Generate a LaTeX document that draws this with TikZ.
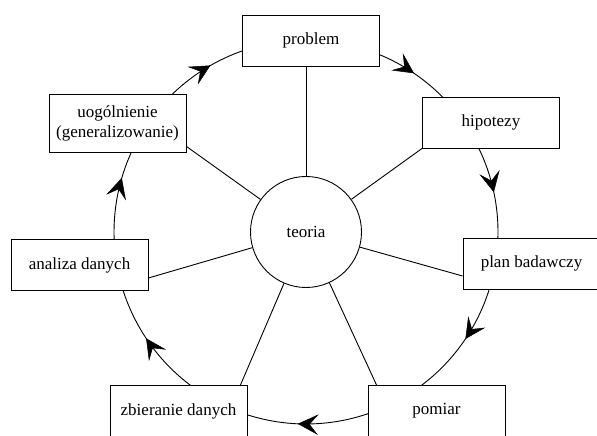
\documentclass[tikz,border=0pt]{standalone}
\usepackage{fontspec}
\setmainfont{Liberation Serif}
\usetikzlibrary{decorations.markings}
\tikzset{
  box/.style={draw, fill=white, line width=0.9pt, minimum width=137pt, minimum height=51pt, inner sep=2pt, align=center, font=\fontsize{17}{20}\selectfont},
  core/.style={draw, fill=white, circle, line width=0.9pt, minimum size=111pt, inner sep=0pt, font=\fontsize{17}{20}\selectfont},
  cycarc/.style={line width=0.9pt, postaction={decorate}, decoration={markings, mark=at position #1 with {\filldraw[line width=0.5pt, line join=miter] (0pt,0pt) -- (-19pt,9.5pt) -- (-11pt,0pt) -- (-19pt,-9.5pt) -- cycle;}}},
  spoke/.style={line width=0.9pt}
}
\begin{document}
\begin{tikzpicture}[x=1pt,y=1pt]
\useasboundingbox (0,0) rectangle (597,436);
\clip (0,0) rectangle (597,436);
\coordinate (O) at (306,204);
% cycle arcs (radius 192 round O), each between neighbouring boxes
\draw[cycarc=0.504] (O) ++(68.2:192) arc[start angle=68.2, end angle=43.8, radius=192];
\draw[cycarc=0.498] (O) ++(26.9:192) arc[start angle=26.9, end angle=-2.8, radius=192];
\draw[cycarc=0.464] (O) ++(-16.3:192) arc[start angle=-16.3, end angle=-53.8, radius=192];
\draw[cycarc=0.571] (O) ++(-70.2:192) arc[start angle=-70.2, end angle=-108.9, radius=192];
\draw[cycarc=0.550] (O) ++(-125.7:192) arc[start angle=-125.7, end angle=-163, radius=192];
\draw[cycarc=0.680] (O) ++(-176.9:192) arc[start angle=-176.9, end angle=-205.3, radius=192];
\draw[cycarc=0.566] (O) ++(-225:192) arc[start angle=-225, end angle=-251.5, radius=192];
% nodes
\node[core] (teoria) at (O) {teoria};
\node[box] (problem) at (311,395.5) {problem};
\node[box] (hipotezy) at (491,313.5) {hipotezy};
\node[box] (plan) at (531.5,172.5) {plan badawczy};
\node[box] (pomiar) at (436.5,25) {pomiar};
\node[box] (zbieranie) at (178.5,25) {zbieranie danych};
\node[box] (analiza) at (79.5,171) {analiza danych};
\node[box, minimum height=58pt] (uogol) at (117.5,312.5) {uogólnienie\\(generalizowanie)};
% spokes
\draw[spoke] (teoria.north) -- (teoria.north |- problem.south);
\draw[spoke] (teoria) -- (hipotezy.south west);
\draw[spoke] (teoria) -- ([yshift=-12.5pt]plan.west);
\draw[spoke] (teoria) -- ([xshift=9pt]pomiar.north west);
\draw[spoke] (teoria) -- ([xshift=-7pt]zbieranie.north east);
\draw[spoke] (teoria) -- ([yshift=-13pt]analiza.east);
\draw[spoke] (teoria) -- ([yshift=6.5pt]uogol.south east);
\end{tikzpicture}
\end{document}
